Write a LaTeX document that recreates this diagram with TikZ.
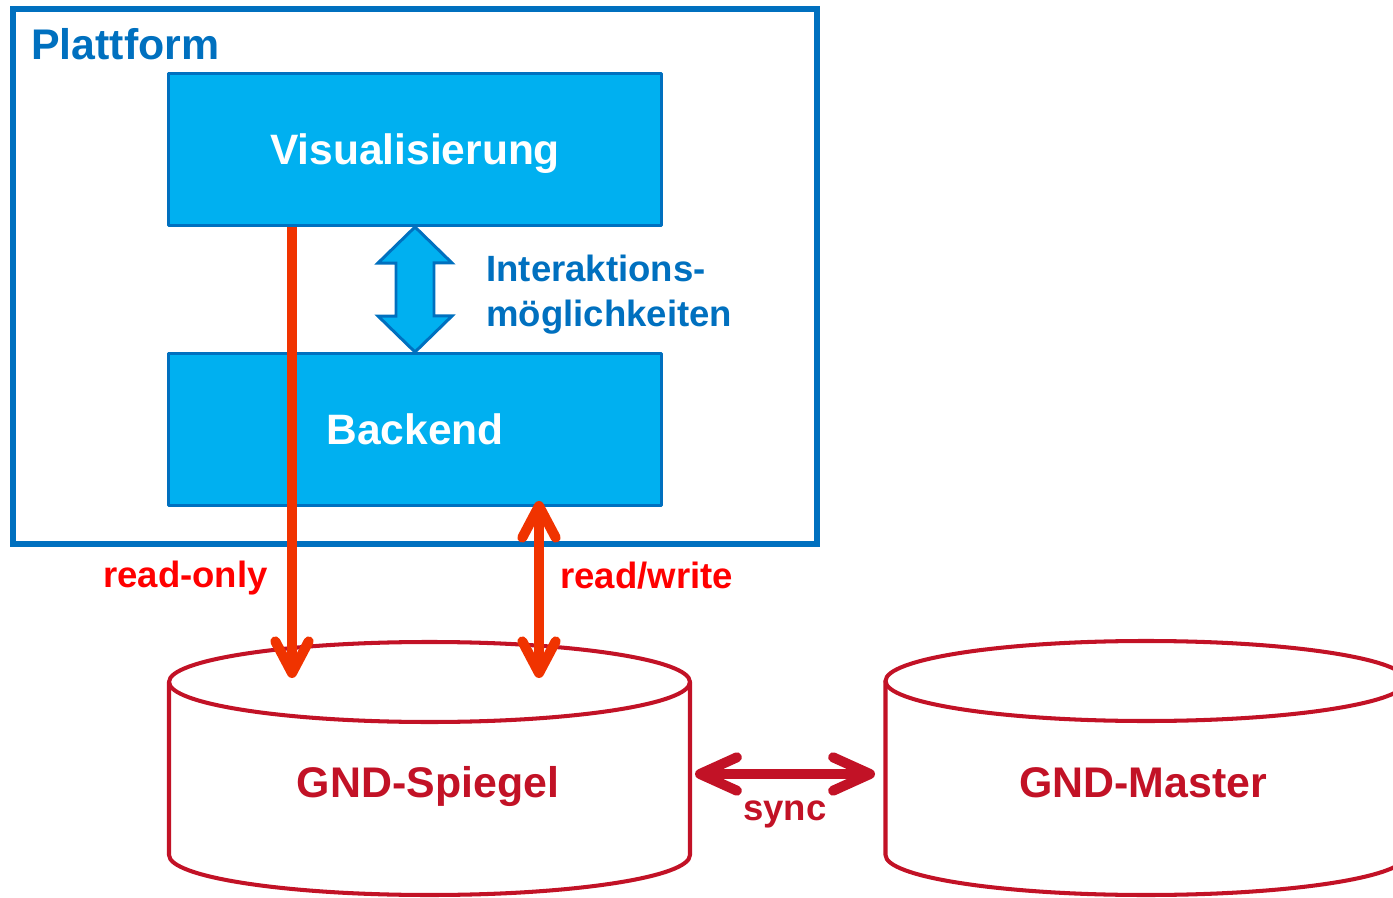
\documentclass[tikz,border=0pt]{standalone}
\usepackage{fontspec}
\setmainfont{Liberation Sans}
\usetikzlibrary{arrows.meta,calc}
\definecolor{qqzzcc}{rgb}{0,0.44,0.75}
\definecolor{qqttff}{rgb}{0,0.69,0.94}
\definecolor{ffqqqq}{rgb}{1,0,0}
\definecolor{ffdzqq}{rgb}{0.94,0.2,0}
\definecolor{ccqqtt}{rgb}{0.76,0.07,0.15}

\begin{document}
\begin{tikzpicture}[line cap=round,line join=round,x=0.02cm,y=-0.02cm,
  box/.style={draw=qqzzcc,fill=qqttff,line width=1.7pt,minimum width=9.86cm,minimum height=3.04cm,inner sep=0pt,text=white,text depth=0pt,font=\fontsize{24.2}{29}\selectfont\bfseries},
  bigtxt/.style={inner sep=0pt,font=\fontsize{24.4}{29}\selectfont\bfseries},
  smalltxt/.style={inner sep=0pt,font=\fontsize{20.8}{25.6}\selectfont\bfseries},
  blockarrow/.style={draw=qqzzcc,fill=qqttff,line width=1.7pt,line join=miter},
  redarrow/.style={color=ffdzqq,line width=5.7pt,line cap=butt,>={Straight Barb[length=18pt,width=19pt,round]}},
  syncarrow/.style={color=ccqqtt,line width=5.7pt,>={Straight Barb[length=21pt,width=19pt,round]}},
  dbline/.style={draw=ccqqtt,line width=2.3pt}]
\useasboundingbox (0,0) rectangle (1393,898);
\clip (0,0) rectangle (1393,898);
% platform
\draw [qqzzcc,line width=3.2pt,line join=miter] (13,9) rectangle (817,544);
\node [bigtxt,qqzzcc,anchor=base west] (platt) at (31,60) {Plattform};
\node [box] (vis) at (415,149.5) {Visualisierung};
\node [box] (back) at (415,429.5) {Backend};
\draw [blockarrow] (vis.south) -- ++(37,36) -- ++(-18,0) -- ++(0,53) -- ++(18,0) -- (back.north)
  -- ++(-37,-36) -- ++(18,0) -- ++(0,-53) -- ++(-18,0) -- cycle;
\node [smalltxt,qqzzcc,anchor=west,align=left] (inter) at (486,295) {Interaktions-\\möglichkeiten};
% databases
\draw [dbline] (429.5,682) ellipse (260.5 and 40);
\draw [dbline] (169,682) -- (169,855) arc (180:0:260.5 and 40) -- (690,682);
\draw [dbline] (1146,681) ellipse (260.5 and 40);
\draw [dbline] (885.5,681) -- (885.5,855) arc (180:0:260.5 and 40) -- (1406.5,681);
\node [bigtxt,ccqqtt,anchor=base] (spiegel) at (428,797) {GND-Spiegel};
\node [bigtxt,ccqqtt,anchor=base] (master) at (1143,797) {GND-Master};
% access
\coordinate (ro) at (292,678);
\coordinate (rw) at (539,678);
\draw [redarrow,->] (vis.south -| ro) -- (ro);
\draw [redarrow,<->] ($(back.south -| rw)+(0,-6)$) -- (rw);
\node [smalltxt,ffqqqq,anchor=base east] (rolbl) at (268,587) {read-only};
\node [smalltxt,ffqqqq,anchor=base west] (rwlbl) at (560,588) {read/write};
\coordinate (sl) at (695,774);
\coordinate (sr) at (875,774);
\draw [syncarrow,<->] (sl) -- (sr);
\node [smalltxt,ccqqtt,anchor=base] (sync) at (785,820) {sync};
\end{tikzpicture}
\end{document}
